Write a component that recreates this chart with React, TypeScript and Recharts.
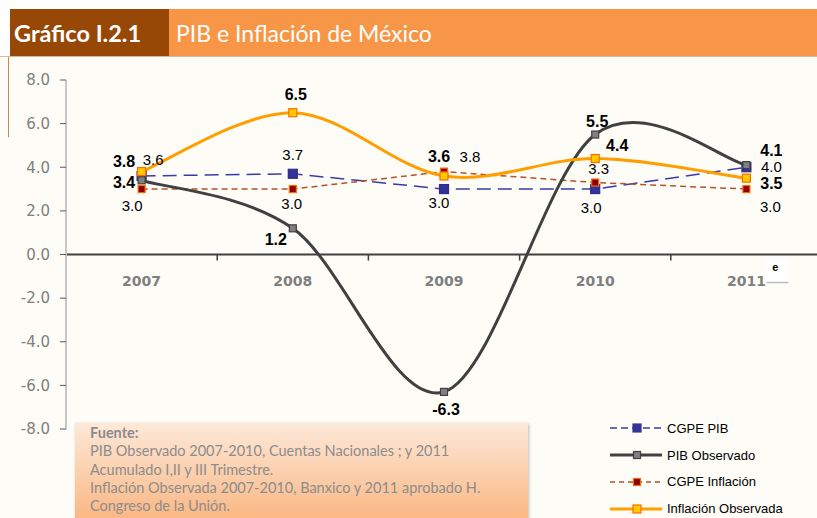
import React from 'react';
import { LineChart, Line, XAxis, YAxis, ReferenceLine, ReferenceDot, LabelList } from 'recharts';

const YEARS = ['2007', '2008', '2009', '2010', '2011'];
const CGPE_PIB = [3.6, 3.7, 3.0, 3.0, 4.0];
const PIB_OBSERVADO = [3.4, 1.2, -6.3, 5.5, 4.1];
const CGPE_INFLACION = [3.0, 3.0, 3.8, 3.3, 3.0];
const INFLACION_OBSERVADA = [3.8, 6.5, 3.6, 4.4, 3.5];
const Y_TICKS = [-8, -6, -4, -2, 0, 2, 4, 6, 8];

const FUENTE_LINES = [
    'PIB Observado 2007-2010, Cuentas Nacionales ;  y 2011',
    'Acumulado I,II y III Trimestre.',
    'Inflación Observada 2007-2010, Banxico y 2011 aprobado H.',
    'Congreso de la Unión.',
];

// where each value label sits, relative to its point (px)
const OFF_CGPE_PIB = [[11.5, -16], [0, -19], [-5, 13], [-4, 18], [25, -0.5]];
const OFF_PIB_OBS = [[-17.5, 2], [-17, 11], [2, 18], [2, -13], [25, -15]];
const OFF_CGPE_INF = [[-9.5, 16.5], [-1, 14.5], [26, -15], [3.5, -14], [24, 17.5]];
const OFF_INF_OBS = [[-17.5, -10.5], [3, -18], [-5, -19], [22, -13], [25, 5.5]];

const data = YEARS.map((year, i) => ({
    year,
    cgpePib: CGPE_PIB[i],
    pibObs: PIB_OBSERVADO[i],
    cgpeInf: CGPE_INFLACION[i],
    infObs: INFLACION_OBSERVADA[i],
}));

// Excel-style smoothed line (catmull-rom through the points)
const smoothCurve = (ctx: any) => {
    let pts: number[][] = [];
    return {
        areaStart() {},
        areaEnd() {},
        lineStart() { pts = []; },
        point(x: number, y: number) { pts.push([+x, +y]); },
        lineEnd() {
            if (!pts.length) return;
            ctx.moveTo(pts[0][0], pts[0][1]);
            for (let i = 0; i < pts.length - 1; i++) {
                const p0 = pts[i - 1] || pts[i];
                const p1 = pts[i];
                const p2 = pts[i + 1];
                const p3 = pts[i + 2] || p2;
                ctx.bezierCurveTo(
                    p1[0] + (p2[0] - p0[0]) / 6, p1[1] + (p2[1] - p0[1]) / 6,
                    p2[0] - (p3[0] - p1[0]) / 6, p2[1] - (p3[1] - p1[1]) / 6,
                    p2[0], p2[1],
                );
            }
        },
    };
};

const squareDot = (size: number, fill: string, stroke: string) => (p: any) => {
    if (p.cx == null || p.cy == null) return <g key={p.index} />;
    return (
        <rect key={p.index} x={p.cx - size / 2} y={p.cy - size / 2} width={size} height={size}
            fill={fill} stroke={stroke} strokeWidth={1.2} />
    );
};

const valueLabel = (offsets: number[][], bold: boolean) => (p: any) => {
    const vb = p.viewBox || {};
    const x = (vb.x ?? p.x) + (vb.width || 0) / 2;
    const y = (vb.y ?? p.y) + (vb.height || 0) / 2;
    const [dx, dy] = offsets[p.index] || [0, 0];
    return (
        <text key={p.index} x={x + dx} y={y + dy} textAnchor="middle" dominantBaseline="central"
            fontFamily="'Liberation Sans', Arial, sans-serif" fontSize={bold ? 16 : 15}
            fontWeight={bold ? 'bold' : 'normal'} fill="#000">
            {Number(p.value).toFixed(1)}
        </text>
    );
};

const yearLabel = (year: string) => (p: any) => {
    const vb = p.viewBox || {};
    const x = (vb.x || 0) + (vb.width || 0) / 2;
    const y = (vb.y || 0) + (vb.height || 0) / 2;
    return (
        <g>
            <text x={x} y={y + 26} textAnchor="middle" dominantBaseline="central"
                fontFamily="'DejaVu Sans', sans-serif" fontSize={14} fontWeight="bold" fill="#7f7f7f">
                {year}
            </text>
            {year === YEARS[YEARS.length - 1] && (
                <g>
                    <rect x={x + 20} y={y + 3} width={22} height={25} fill="#ffffff" />
                    <line x1={x + 20} x2={x + 42} y1={y + 28} y2={y + 28} stroke="#bdbdbd" strokeWidth={1.5} />
                    <text x={x + 29} y={y + 12} textAnchor="middle" dominantBaseline="central"
                        fontFamily="'Liberation Sans', Arial, sans-serif" fontSize={11} fontWeight="bold" fill="#000">e</text>
                </g>
            )}
        </g>
    );
};

const LEGEND = [
    { name: 'CGPE PIB', color: '#3a3aa8', dash: '7 4', width: 1.5, size: 8, fill: '#333399', border: '#333399' },
    { name: 'PIB Observado', color: '#404040', dash: undefined, width: 3, size: 7, fill: '#808080', border: '#404040' },
    { name: 'CGPE Inflación', color: '#b5532a', dash: '5 4', width: 1.5, size: 7, fill: '#8b0000', border: '#ff6a00' },
    { name: 'Inflación Observada', color: '#ff9e00', dash: undefined, width: 3, size: 8, fill: '#ffcc00', border: '#ff6a00' },
];

export default function App() {
    return (
        <div style={{ position: 'absolute', left: 0, top: 0, width: 817, height: 518, overflow: 'hidden', background: '#ffffff' }}>
            {/* header */}
            <div style={{ position: 'absolute', left: 10, top: 9, width: 159, height: 47, background: '#974806' }} />
            <div style={{ position: 'absolute', left: 169, top: 9, width: 648, height: 47, background: '#f79646' }} />
            <div style={{ position: 'absolute', left: 14, top: 18, color: '#fff', fontFamily: 'Lato, sans-serif', fontWeight: 'bold', fontSize: 23.5, lineHeight: '30px', whiteSpace: 'nowrap' }}>
                Gráfico I.2.1
            </div>
            <div style={{ position: 'absolute', left: 176, top: 18, color: '#fff', fontFamily: 'Lato, sans-serif', fontSize: 23, lineHeight: '30px', whiteSpace: 'nowrap' }}>
                PIB e Inflación de México
            </div>
            {/* panel */}
            <div style={{ position: 'absolute', left: 0, top: 56, width: 817, height: 462, background: '#fdfcf7', borderTop: '1px solid #d9b896' }} />
            <div style={{ position: 'absolute', left: 8, top: 57, width: 1, height: 80, background: '#c0895a' }} />

            <div style={{ position: 'absolute', left: 0, top: 0 }}>
                <LineChart width={830} height={518} data={data} margin={{ top: 80, right: 8, bottom: 89, left: 0 }}>
                    <XAxis dataKey="year" scale="band" hide />
                    <YAxis
                        domain={[-8, 8]}
                        ticks={Y_TICKS}
                        interval={0}
                        width={66}
                        tickFormatter={(v: number) => v.toFixed(1)}
                        axisLine={{ stroke: '#c6c6c6', strokeWidth: 2 }}
                        tickLine={{ stroke: '#595959' }}
                        tickSize={6}
                        tickMargin={10}
                        tick={{ fill: '#7f7f7f', fontSize: 15, fontFamily: "'DejaVu Sans', sans-serif" }}
                    />
                    <ReferenceLine y={0} stroke="#404040" strokeWidth={2} />
                    {YEARS.slice(1).map((year) => (
                        <ReferenceLine key={'t' + year} position="start" stroke="#404040" strokeWidth={1.5}
                            segment={[{ x: year, y: 0 }, { x: year, y: -0.28 }]} />
                    ))}
                    {YEARS.map((year) => (
                        <ReferenceDot key={'d' + year} x={year} y={0} r={0} fill="none" stroke="none" label={yearLabel(year)} />
                    ))}

                    <Line dataKey="cgpePib" name="CGPE PIB" type="linear" stroke="#3a3aa8" strokeWidth={1.5}
                        strokeDasharray="14 7" dot={squareDot(9, '#333399', '#2e2e8a')} isAnimationActive={false}>
                        <LabelList dataKey="cgpePib" content={valueLabel(OFF_CGPE_PIB, false)} />
                    </Line>
                    <Line dataKey="cgpeInf" name="CGPE Inflación" type="linear" stroke="#b5532a" strokeWidth={1.5}
                        strokeDasharray="6 4" dot={squareDot(7, '#8b0000', '#ff6a00')} isAnimationActive={false}>
                        <LabelList dataKey="cgpeInf" content={valueLabel(OFF_CGPE_INF, false)} />
                    </Line>
                    <Line dataKey="pibObs" name="PIB Observado" type={smoothCurve as any} stroke="#404040" strokeWidth={3}
                        dot={squareDot(7, '#808080', '#404040')} isAnimationActive={false}>
                        <LabelList dataKey="pibObs" content={valueLabel(OFF_PIB_OBS, true)} />
                    </Line>
                    <Line dataKey="infObs" name="Inflación Observada" type={smoothCurve as any} stroke="#ff9e00" strokeWidth={3}
                        dot={squareDot(8, '#ffcc00', '#ff6a00')} isAnimationActive={false}>
                        <LabelList dataKey="infObs" content={valueLabel(OFF_INF_OBS, true)} />
                    </Line>
                </LineChart>
            </div>

            {/* fuente */}
            <div style={{
                position: 'absolute', left: 75, top: 423, width: 453, height: 100,
                background: 'linear-gradient(#fde9d9, #fab580)', boxShadow: '1px 1px 3px rgba(0,0,0,0.25)',
                fontFamily: 'Lato, sans-serif', fontSize: 14.5, lineHeight: '18.3px', color: '#8c8c8c',
                padding: '1px 0 0 15px', boxSizing: 'border-box', whiteSpace: 'nowrap',
            }}>
                <div style={{ fontWeight: 'bold' }}>Fuente:</div>
                {FUENTE_LINES.map((l) => <div key={l}>{l}</div>)}
            </div>

            {/* legend */}
            <div style={{ position: 'absolute', left: 608, top: 415 }}>
                {LEGEND.map((s) => (
                    <div key={s.name} style={{ display: 'flex', alignItems: 'center', height: 26.8 }}>
                        <svg width={56} height={14} style={{ display: 'block' }}>
                            <line x1={2} x2={54} y1={7} y2={7} stroke={s.color} strokeWidth={s.width} strokeDasharray={s.dash} />
                            <rect x={29 - s.size / 2} y={7 - s.size / 2} width={s.size} height={s.size} fill={s.fill} stroke={s.border} strokeWidth={1.2} />
                        </svg>
                        <span style={{ marginLeft: 3, fontFamily: "'Liberation Sans', Arial, sans-serif", fontSize: 13, lineHeight: '15px', color: '#000' }}>{s.name}</span>
                    </div>
                ))}
            </div>
        </div>
    );
}
